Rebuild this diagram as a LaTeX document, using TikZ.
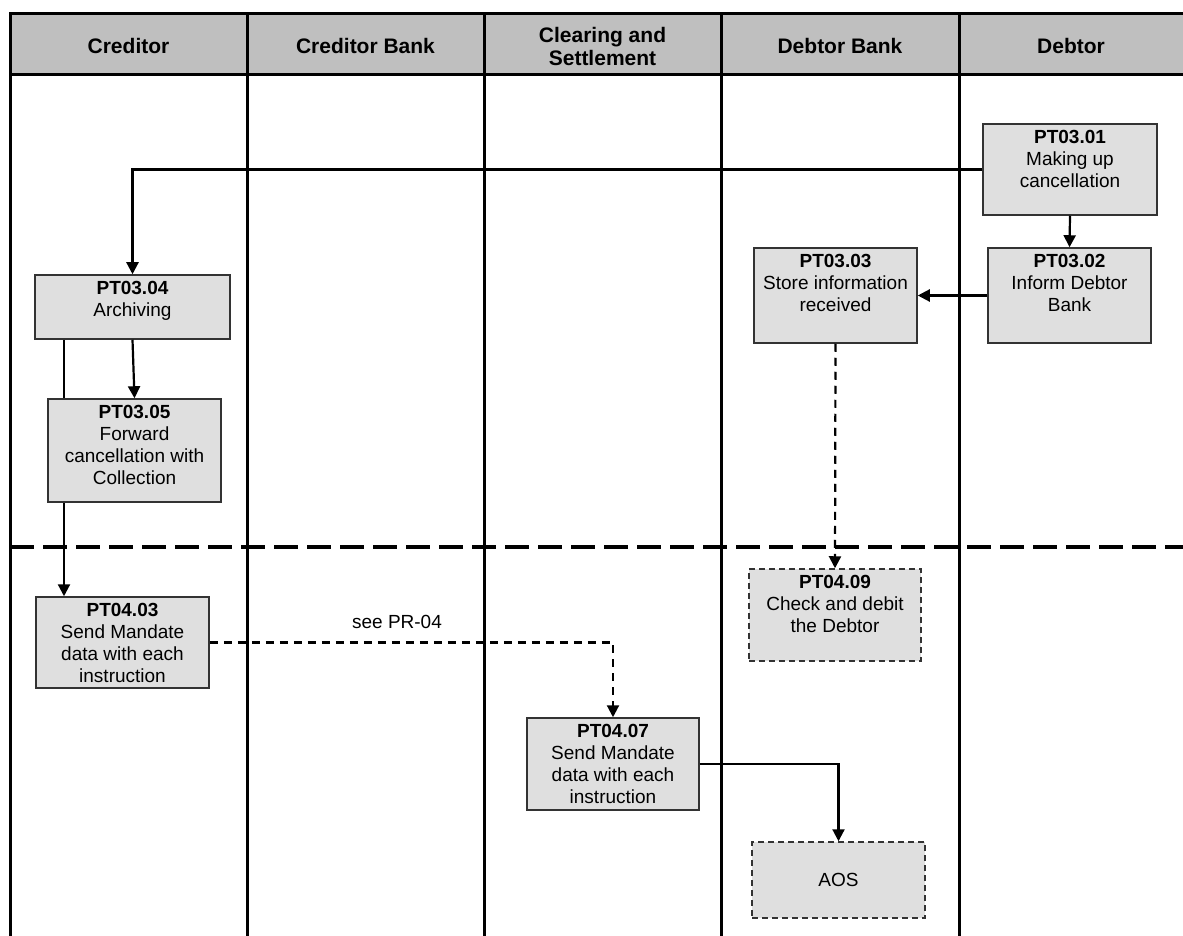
\documentclass[tikz,border=0pt]{standalone}
\usepackage{fontspec}
\setmainfont{Liberation Sans}
\usetikzlibrary{arrows.meta,calc}
\begin{document}
\begin{tikzpicture}[x=0.5pt,y=-0.5pt,
  lane/.style={line width=1.5pt},
  hdr/.style={font=\bfseries\fontsize{10.5}{11.5}\selectfont, align=center},
  proc/.style={draw=black!80, line width=0.75pt, fill=gray!25, inner sep=0pt},
  dproc/.style={proc, dash pattern=on 3pt off 2pt},
  ptext/.style={anchor=north, align=center, inner sep=3.5pt, font=\fontsize{9.5}{11}\selectfont},
  arr/.style={line width=1.1pt, -{Triangle[length=6pt,width=6pt]}},
  darr/.style={arr, dash pattern=on 4pt off 3pt}]
\useasboundingbox (0,0) rectangle (1183,936);
% header and lanes
\fill[gray!50] (10,14) rectangle (1183,75);
\draw[lane] (1183,14) -- (10,14) -- (10,936);
\draw[lane] (10,75) -- (1183,75);
\foreach \x in {247,484,721,959} \draw[lane] (\x,14) -- (\x,936);
\draw[line width=2pt, dash pattern=on 12pt off 4.5pt] (10,547) -- (1183,547);
\node[hdr] (h1) at (128.5,46) {Creditor};
\node[hdr] (h2) at (365.5,46) {Creditor Bank};
\node[hdr] (h3) at (602.5,46) {Clearing and\\Settlement};
\node[hdr] (h4) at (840,46) {Debtor Bank};
\node[hdr] (h5) at (1071,46) {Debtor};
% boxes
\node[proc, minimum width=87pt, minimum height=45.5pt] (p0301) at (1070,169.5) {};
\node[ptext] (t0301) at (p0301.north) {\textbf{PT03.01}\\Making up\\cancellation};
\node[proc, minimum width=81.5pt, minimum height=47.5pt] (p0302) at (1069.5,295.5) {};
\node[ptext] (t0302) at (p0302.north) {\textbf{PT03.02}\\Inform Debtor\\Bank};
\node[proc, minimum width=81.5pt, minimum height=47.5pt] (p0303) at (835.5,295.5) {};
\node[ptext] (t0303) at (p0303.north) {\textbf{PT03.03}\\Store information\\received};
\node[proc, minimum width=97.5pt, minimum height=32pt] (p0304) at (132.5,307) {};
\node[ptext] (t0304) at (p0304.north) {\textbf{PT03.04}\\Archiving};
\node[proc, minimum width=86.5pt, minimum height=51.5pt] (p0305) at (134.5,450.5) {};
\node[ptext] (t0305) at (p0305.north) {\textbf{PT03.05}\\Forward\\cancellation with\\Collection};
\node[proc, minimum width=86.5pt, minimum height=45.5pt] (p0403) at (122.5,642.5) {};
\node[ptext] (t0403) at (p0403.north) {\textbf{PT04.03}\\Send Mandate\\data with each\\instruction};
\node[dproc, minimum width=86pt, minimum height=46pt] (p0409) at (835,615) {};
\node[ptext] (t0409) at (p0409.north) {\textbf{PT04.09}\\Check and debit\\the Debtor};
\node[proc, minimum width=86pt, minimum height=46pt] (p0407) at (613,764) {};
\node[ptext] (t0407) at (p0407.north) {\textbf{PT04.07}\\Send Mandate\\data with each\\instruction};
\node[dproc, minimum width=86.5pt, minimum height=38pt, font=\fontsize{9.5}{11}\selectfont] (aos) at (838.5,880) {AOS};
\node[font=\fontsize{9.5}{11}\selectfont] (lbl) at (397,622) {see PR-04};
% connectors
\coordinate (lx) at (64,0);
\draw[arr] (p0301.west) -| (p0304.north);
\draw[arr] (p0301.south) -- (p0302.north);
\draw[arr] (p0302.west) -- (p0303.east);
\draw[darr] (p0303.south) -- (p0409.north);
\draw[arr] (p0304.south) -- (p0305.north);
\draw[line width=1.1pt] (p0304.south -| lx) -- (p0305.north -| lx);
\draw[arr] (p0305.south -| lx) -- (p0403.north -| lx);
\draw[darr] (p0403.east) -| (p0407.north);
\draw[arr] (p0407.east) -| (aos.north);
\end{tikzpicture}
\end{document}
